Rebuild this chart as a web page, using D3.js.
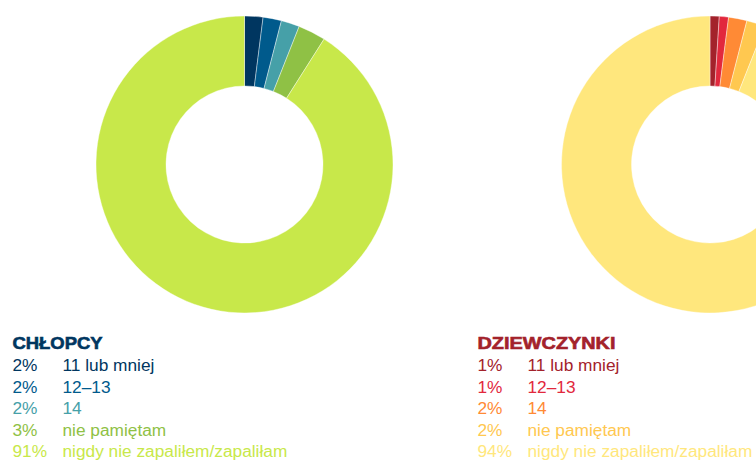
<!DOCTYPE html>
<html>
<head>
<meta charset="utf-8">
<script src="https://cdn.jsdelivr.net/npm/d3@7"></script>
<style>
  html, body { margin: 0; padding: 0; background: #fff; overflow: hidden; }
  svg { display: block; font-family: "Liberation Sans", Arial, sans-serif; }
</style>
</head>
<body>
<svg id="chart" width="756" height="462"></svg>
<script>
// Age at first cigarette, boys vs girls
const categories = ["11 lub mniej", "12–13", "14", "nie pamiętam", "nigdy nie zapaliłem/zapaliłam"];
const boysTitle = "CHŁOPCY";
const girlsTitle = "DZIEWCZYNKI";
const boysValues = [2, 2, 2, 3, 91];
const girlsValues = [1, 1, 2, 2, 94];
const boysColors = ["#003660", "#005a8c", "#46a0a8", "#8fc145", "#c8e84a"];
const girlsColors = ["#a3222b", "#e2283d", "#ff8a35", "#ffc850", "#ffe77d"];

const svg = d3.select("#chart");

const pie = d3.pie().sort(null).value(d => d.value);
const arc = d3.arc().innerRadius(78.5).outerRadius(148.5);

function drawPanel(cfg) {
  const data = categories.map((c, i) => ({ label: c, value: cfg.values[i], color: cfg.colors[i] }));

  // donut
  const g = svg.append("g").attr("transform", `translate(${cfg.cx},${cfg.cy})`);
  g.selectAll("path")
    .data(pie(data))
    .join("path")
    .attr("d", arc)
    .attr("fill", d => d.data.color)
    .attr("stroke", "#fff")
    .attr("stroke-width", 0.4);

  // legend
  const lg = svg.append("g").attr("transform", `translate(${cfg.lx},0)`);
  lg.append("text")
    .attr("x", 0)
    .attr("y", 349)
    .attr("fill", cfg.colors[0])
    .attr("stroke", cfg.colors[0])
    .attr("stroke-width", 0.6)
    .attr("font-size", 17)
    .attr("font-weight", "bold")
    .attr("textLength", cfg.titleWidth)
    .attr("lengthAdjust", "spacingAndGlyphs")
    .text(cfg.title);

  const rows = lg.selectAll("g.row")
    .data(data)
    .join("g")
    .attr("class", "row")
    .attr("transform", (d, i) => `translate(0,${371 + i * 21.5})`);
  rows.append("text")
    .attr("x", 0)
    .attr("font-size", 17.3)
    .attr("fill", d => d.color)
    .text(d => d.value + "%");
  rows.append("text")
    .attr("x", 50)
    .attr("font-size", 17.3)
    .attr("fill", d => d.color)
    .text(d => d.label);
}

drawPanel({ title: boysTitle, values: boysValues, colors: boysColors, cx: 244.5, cy: 164.5, lx: 12.5, titleWidth: 90 });
drawPanel({ title: girlsTitle, values: girlsValues, colors: girlsColors, cx: 710, cy: 164.5, lx: 477.5, titleWidth: 138 });
</script>
</body>
</html>
